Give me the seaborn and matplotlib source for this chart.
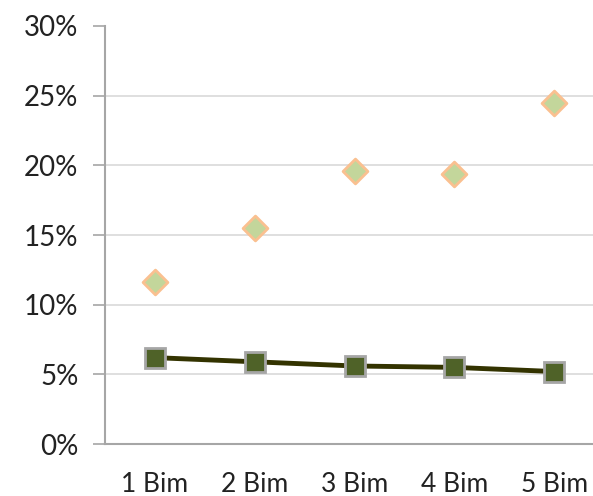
import numpy as np
import pandas as pd
import matplotlib
matplotlib.use("Agg")
from matplotlib import pyplot as plt
from matplotlib.ticker import PercentFormatter, FixedLocator
import seaborn as sns

# values
categories = ["1 Bim", "2 Bim", "3 Bim", "4 Bim", "5 Bim"]
diamond_vals = [0.116, 0.155, 0.196, 0.194, 0.245]
square_vals = [0.062, 0.059, 0.056, 0.055, 0.052]

df = pd.DataFrame({
    "pos": np.arange(len(categories)),
    "cat": categories,
    "diamond": diamond_vals,
    "square": square_vals,
})

sns.set_theme(style="white")
plt.rcParams["font.family"] = ["Lato", "DejaVu Sans"]

fig = plt.figure(figsize=(5.93, 4.96), dpi=100)
ax = fig.add_axes([0.177, 0.1048, 0.842, 0.8428])

sns.lineplot(data=df, x="pos", y="square", ax=ax, color="#333300", linewidth=3.5,
             marker="s", markersize=14, markerfacecolor="#4f6228",
             markeredgecolor="#a6a6a6", markeredgewidth=2, zorder=3)
sns.scatterplot(data=df, x="pos", y="diamond", ax=ax, marker="D", s=160,
                color="#c3d69b", edgecolor="#fac090", linewidth=2, zorder=3)

ax.set_xlim(-0.5, len(categories) - 0.5)
ax.set_ylim(0, 0.30)
ax.set_yticks(np.arange(0, 0.31, 0.05))
ax.yaxis.set_major_formatter(PercentFormatter(1.0, decimals=0))
ax.yaxis.grid(True, color="#d9d9d9", linewidth=1.2)
ax.get_ygridlines()[-1].set_visible(False)
ax.get_ygridlines()[0].set_visible(False)

ax.set_xticks(df["pos"])
ax.set_xticklabels(categories)
ax.xaxis.set_minor_locator(FixedLocator(np.arange(-0.5, len(categories), 1.0)))
ax.tick_params(axis="x", which="major", length=0, pad=20, labelsize=19, colors="#222222")
ax.tick_params(axis="x", which="minor", length=9, width=1.2, color="#a6a6a6", direction="out")
ax.tick_params(axis="y", length=9, width=1.2, color="#a6a6a6", direction="out",
               pad=10, labelsize=20, labelcolor="#222222", left=True)

for side in ["top", "right"]:
    ax.spines[side].set_visible(False)
for side in ["left", "bottom"]:
    ax.spines[side].set_color("#a6a6a6")
    ax.spines[side].set_linewidth(1.5)

ax.set_xlabel("")
ax.set_ylabel("")
if ax.get_legend():
    ax.get_legend().remove()

fig.savefig("out.png", dpi=100)
